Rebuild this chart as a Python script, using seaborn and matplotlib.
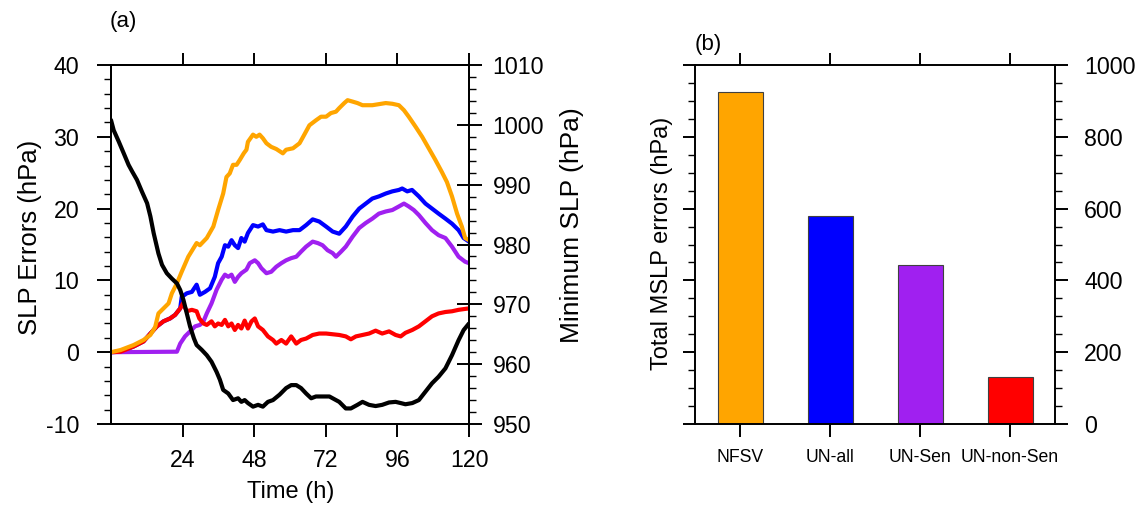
import numpy as np
import pandas as pd
import matplotlib
matplotlib.use("Agg")
import matplotlib.pyplot as plt
from matplotlib.ticker import MultipleLocator
import seaborn as sns

# ---------------- data ----------------
# NFSV (orange), SLP errors (hPa)
t_nfsv = [0, 3.2, 7.6, 10.9, 13.2, 14.8, 15.9, 17.6, 19.3, 20.4, 22.1, 23.7, 25.9, 28.7, 29.8,
          32.1, 34.3, 35.9, 37.6, 38.7, 39.8, 40.9, 42.1, 43.2, 44.5, 45.4, 45.9, 47.6, 48.7,
          49.8, 50.9, 52.1, 53.7, 55.4, 57.6, 58.7, 61.0, 63.2, 64.8, 66.5, 68.7, 70.4, 72.1,
          73.7, 75.4, 76.5, 78.2, 79.3, 81.0, 82.6, 84.3, 87.6, 92.1, 94.3, 96.5, 98.2, 99.8,
          102.1, 104.3, 106.5, 108.7, 110.9, 112.6, 114.3, 116.0, 117.6, 118.7, 120]
v_nfsv = [0.0, 0.3, 1.0, 1.7, 2.4, 3.5, 5.4, 6.1, 6.8, 8.2, 9.6, 11.2, 13.3, 15.2, 14.9,
          15.9, 17.5, 19.8, 22.1, 24.4, 24.9, 26.1, 26.1, 26.8, 27.7, 28.2, 29.3, 30.3, 30.0,
          30.3, 29.8, 29.1, 28.6, 28.3, 27.7, 28.2, 28.4, 29.1, 30.3, 31.6, 32.3, 32.8, 32.8,
          33.3, 33.5, 34.0, 34.7, 35.1, 34.9, 34.7, 34.4, 34.4, 34.7, 34.6, 34.4, 33.7, 32.8,
          31.4, 30.0, 28.4, 26.8, 25.1, 23.7, 21.7, 19.3, 17.5, 15.9, 15.6]

# UN-all (blue)
t_unall = [0, 3.2, 7.6, 10.9, 13.2, 15.4, 17.6, 19.8, 21.5, 23.2, 23.7, 25.4, 27.1, 28.7, 29.8,
           31.5, 33.2, 34.8, 35.9, 37.1, 38.2, 39.3, 40.4, 41.5, 42.6, 43.7, 44.8, 45.9, 47.6,
           49.3, 50.9, 52.1, 54.3, 56.5, 58.7, 61.0, 63.2, 65.4, 67.6, 69.8, 72.1, 74.3, 76.5,
           78.7, 81.0, 83.2, 85.4, 87.6, 89.8, 92.1, 94.3, 96.5, 97.6, 99.3, 100.9, 103.2,
           105.4, 107.6, 109.8, 112.1, 114.3, 116.5, 118.2, 120]
v_unall = [0.0, 0.07, 0.8, 1.5, 2.6, 3.6, 4.3, 4.7, 5.2, 6.1, 7.7, 8.2, 8.4, 9.4, 8.0,
           8.4, 8.9, 10.5, 12.4, 13.3, 14.9, 14.7, 15.6, 14.9, 14.5, 15.9, 15.4, 16.6, 17.7,
           17.5, 17.8, 17.0, 16.8, 17.0, 16.8, 17.0, 17.0, 17.7, 18.5, 18.2, 17.5, 16.8, 16.5,
           17.5, 18.9, 20.0, 20.7, 21.4, 21.7, 22.1, 22.4, 22.6, 22.8, 22.4, 22.6, 21.7,
           20.7, 20.0, 19.3, 18.6, 17.9, 17.0, 15.9, 15.4]

# UN-Sen (purple)
t_unsen = [0, 22.1, 23.2, 24.8, 26.5, 28.2, 29.8, 31.0, 32.1, 33.7, 35.4, 37.1, 38.2, 39.3,
           40.4, 41.5, 42.6, 43.7, 45.4, 46.5, 48.2, 49.3, 50.4, 52.1, 53.7, 55.4, 57.1, 58.7,
           60.4, 62.1, 63.7, 65.4, 67.6, 69.3, 70.9, 72.6, 74.3, 75.4, 77.1, 78.7, 81.0, 83.2,
           85.4, 87.6, 89.8, 92.1, 94.3, 96.5, 98.2, 99.8, 101.5, 103.2, 105.4, 107.6, 109.8,
           112.1, 114.3, 116.5, 118.7, 120]
v_unsen = [0.0, 0.07, 1.2, 2.2, 2.9, 3.6, 3.8, 4.3, 5.4, 6.8, 8.7, 10.1, 10.8, 10.5,
           10.8, 9.8, 10.5, 11.0, 11.5, 12.4, 12.8, 12.4, 11.7, 11.0, 11.2, 11.9, 12.4, 12.8,
           13.1, 13.3, 14.0, 14.7, 15.4, 15.2, 14.9, 14.2, 13.8, 13.3, 14.0, 14.7, 16.1, 17.3,
           18.0, 18.6, 19.3, 19.6, 19.8, 20.3, 20.7, 20.3, 19.8, 19.1, 18.0, 17.0, 16.3,
           15.9, 14.7, 13.3, 12.6, 12.4]

# UN-non-Sen (red)
t_unnon = [0, 3.2, 7.6, 10.9, 13.2, 15.4, 17.6, 19.8, 21.5, 23.2, 24.1, 25.4, 27.1, 28.7, 29.6,
           31.0, 32.1, 33.7, 34.8, 35.9, 37.1, 38.2, 39.3, 40.4, 41.5, 42.6, 43.7, 44.8, 45.9,
           47.1, 48.2, 49.3, 50.9, 52.6, 54.3, 55.4, 57.1, 58.7, 60.4, 62.1, 63.7, 65.4, 67.6,
           69.8, 72.1, 74.3, 76.5, 78.7, 80.4, 82.1, 84.3, 86.5, 88.7, 90.9, 93.2, 95.4, 97.1,
           98.7, 101.0, 103.2, 105.4, 107.6, 109.8, 112.1, 114.3, 116.5, 118.2, 120]
v_unnon = [0.0, 0.07, 0.8, 1.5, 2.6, 3.6, 4.3, 4.7, 5.2, 6.1, 6.8, 5.7, 5.9, 5.7, 4.7,
           4.0, 3.8, 4.3, 3.6, 4.0, 3.8, 4.5, 3.6, 4.0, 3.1, 3.8, 3.3, 4.4, 3.3,
           4.3, 4.7, 3.6, 3.1, 2.2, 1.7, 1.2, 1.7, 1.2, 2.2, 1.2, 1.7, 1.9, 2.4,
           2.6, 2.6, 2.5, 2.4, 2.2, 1.8, 2.2, 2.4, 2.6, 3.0, 2.6, 2.9, 2.4, 2.2,
           2.7, 3.1, 3.6, 4.3, 5.0, 5.4, 5.6, 5.7, 5.9, 6.0, 6.1]

# Minimum SLP (black, right axis, hPa)
t_minslp = [0, 0.9, 2.6, 4.3, 5.9, 7.1, 8.7, 10.4, 12.1, 13.2, 14.3, 15.9, 17.1, 18.7, 20.4,
            22.1, 23.2, 24.3, 25.4, 26.5, 27.8, 28.7, 30.4, 32.1, 33.7, 35.4, 36.5, 37.6, 39.3,
            40.9, 42.6, 43.7, 44.8, 45.9, 47.6, 49.3, 50.9, 52.6, 54.3, 56.5, 58.7, 60.4, 62.1,
            63.7, 65.4, 67.1, 68.7, 70.9, 73.2, 74.3, 76.5, 78.7, 80.4, 82.6, 84.3, 86.5, 88.7,
            90.9, 93.2, 95.4, 97.1, 98.7, 101.0, 103.2, 105.4, 107.6, 109.8, 112.1, 114.3,
            116.5, 118.2, 120]
v_minslp = [1000.8, 999.1, 997.2, 995.2, 993.3, 992.2, 990.8, 988.8, 986.9, 984.7, 981.9,
            978.5, 976.6, 975.2, 974.3, 973.5, 972.4, 970.7, 968.5, 966.3, 964.3, 963.2, 962.4,
            961.5, 960.4, 958.7, 957.4, 955.7, 955.1, 954.0, 954.3, 953.7, 954.0, 953.5, 952.9,
            953.2, 952.9, 953.7, 954.0, 954.9, 956.0, 956.5, 956.5, 956.0, 955.1, 954.3, 954.6,
            954.6, 954.6, 954.3, 953.7, 952.6, 952.6, 953.2, 953.7, 953.2, 953.0, 953.2, 953.6,
            953.7, 953.5, 953.3, 953.5, 954.0, 955.4, 956.8, 957.9, 959.3, 961.5, 964.0, 965.7,
            966.8]

# Panel (b)
categories = ["NFSV", "UN-all", "UN-Sen", "UN-non-Sen"]
total_errors = [925, 578, 443, 130]

x_ticks = [24, 48, 72, 96, 120]

# ---------------- style ----------------
sns.set_theme(style="ticks")
plt.rcParams["font.family"] = ["Liberation Sans", "DejaVu Sans"]
plt.rcParams["axes.linewidth"] = 1.4
plt.rcParams["axes.unicode_minus"] = False
for k in ("text.color", "axes.labelcolor", "xtick.color", "ytick.color",
          "xtick.labelcolor", "ytick.labelcolor", "axes.edgecolor"):
    plt.rcParams[k] = "black"

C_ORANGE = "#FFA500"
C_BLUE = "#0000FF"
C_PURPLE = "#A020F0"
C_RED = "#FF0000"

fig = plt.figure(figsize=(11.37, 5.08), dpi=100)
W, H = 1137.0, 508.0

def rect(l, r, t, b):
    return [l / W, 1 - b / H, (r - l) / W, (b - t) / H]

ax = fig.add_axes(rect(111, 469, 65, 424))
ax2 = ax.twinx()
ax3 = fig.add_axes(rect(695, 1055, 65, 424))

TICK_FS = 16.7
LW = 3.0

# ---------------- panel (a) ----------------
sns.lineplot(x=t_unall, y=v_unall, ax=ax, color=C_BLUE, lw=LW, estimator=None)
sns.lineplot(x=t_unsen, y=v_unsen, ax=ax, color=C_PURPLE, lw=LW, estimator=None)
sns.lineplot(x=t_unnon, y=v_unnon, ax=ax, color=C_RED, lw=LW, estimator=None)
sns.lineplot(x=t_nfsv, y=v_nfsv, ax=ax, color=C_ORANGE, lw=LW, estimator=None)
sns.lineplot(x=t_minslp, y=v_minslp, ax=ax2, color="black", lw=LW, estimator=None)

ax.set_xlim(0, 120)
ax.set_ylim(-10, 40)
ax.set_xticks(x_ticks)
ax.set_xticklabels([str(v) for v in x_ticks])
ax.set_yticks(np.arange(-10, 41, 10))
ax.yaxis.set_minor_locator(MultipleLocator(2))
ax.tick_params(axis="x", which="major", top=True, bottom=True, direction="out",
               length=9, width=1.4, labelsize=TICK_FS, pad=9)
ax.tick_params(axis="y", which="major", left=True, right=False, direction="out",
               length=10, width=1.4, labelsize=TICK_FS, pad=13)
ax.tick_params(axis="y", which="minor", left=True, right=False, direction="out",
               length=5, width=1.0)

ax2.set_ylim(950, 1010)
ax2.set_yticks(np.arange(950, 1011, 10))
ax2.yaxis.set_minor_locator(MultipleLocator(2))
ax2.tick_params(axis="y", which="major", right=True, direction="inout",
                length=18, width=1.4, labelsize=TICK_FS, pad=8)
ax2.tick_params(axis="y", which="minor", right=True, direction="out",
                length=5, width=1.0)

ax.set_xlabel("Time (h)", fontsize=17)
ax.xaxis.label.set_va("center")
ax.xaxis.set_label_coords(0.503, -0.19)
ax.set_ylabel("SLP Errors (hPa)", fontsize=18.5)
ax.yaxis.label.set_va("center")
ax.yaxis.set_label_coords(-0.226, 0.52)
ax2.set_ylabel("Minimum SLP (hPa)", fontsize=19)
ax2.yaxis.label.set_va("center")
ax2.yaxis.set_label_coords(1.288, 0.554)

ax.text(0.034, 1.12, "(a)", transform=ax.transAxes, ha="center", va="center", fontsize=16)

for a in (ax, ax2):
    for s in a.spines.values():
        s.set_visible(True)
        s.set_linewidth(1.4)
        s.set_color("black")

# ---------------- panel (b) ----------------
df_b = pd.DataFrame({"cat": categories, "val": total_errors})
sns.barplot(data=df_b, x="cat", y="val", hue="cat", legend=False,
            palette=[C_ORANGE, C_BLUE, C_PURPLE, C_RED], width=0.5,
            edgecolor="#404040", linewidth=0.8, saturation=1, ax=ax3)
ax3.set_xlim(-0.5, 3.5)
ax3.set_ylim(0, 1000)
ax3.set_yticks(np.arange(0, 1001, 200))
ax3.yaxis.set_minor_locator(MultipleLocator(50))
ax3.tick_params(axis="y", which="major", left=True, right=True, labelleft=False,
                labelright=True, direction="out", length=9, width=1.4,
                labelsize=TICK_FS, pad=12)
ax3.tick_params(axis="y", which="minor", left=True, right=True, direction="out",
                length=5, width=1.0)
ax3.tick_params(axis="x", which="major", top=True, bottom=True, direction="out",
                length=9, width=1.4, labelsize=12.7, pad=9)
ax3.set_xlabel("")
ax3.set_ylabel("Total MSLP errors (hPa)", fontsize=17)
ax3.yaxis.set_label_position("left")
ax3.yaxis.label.set_va("center")
ax3.yaxis.set_label_coords(-0.092, 0.504)
ax3.text(0.036, 1.058, "(b)", transform=ax3.transAxes, ha="center", va="center", fontsize=16)
for s in ax3.spines.values():
    s.set_visible(True)
    s.set_linewidth(1.4)
    s.set_color("black")

fig.savefig("out.png", dpi=100, facecolor="white")
